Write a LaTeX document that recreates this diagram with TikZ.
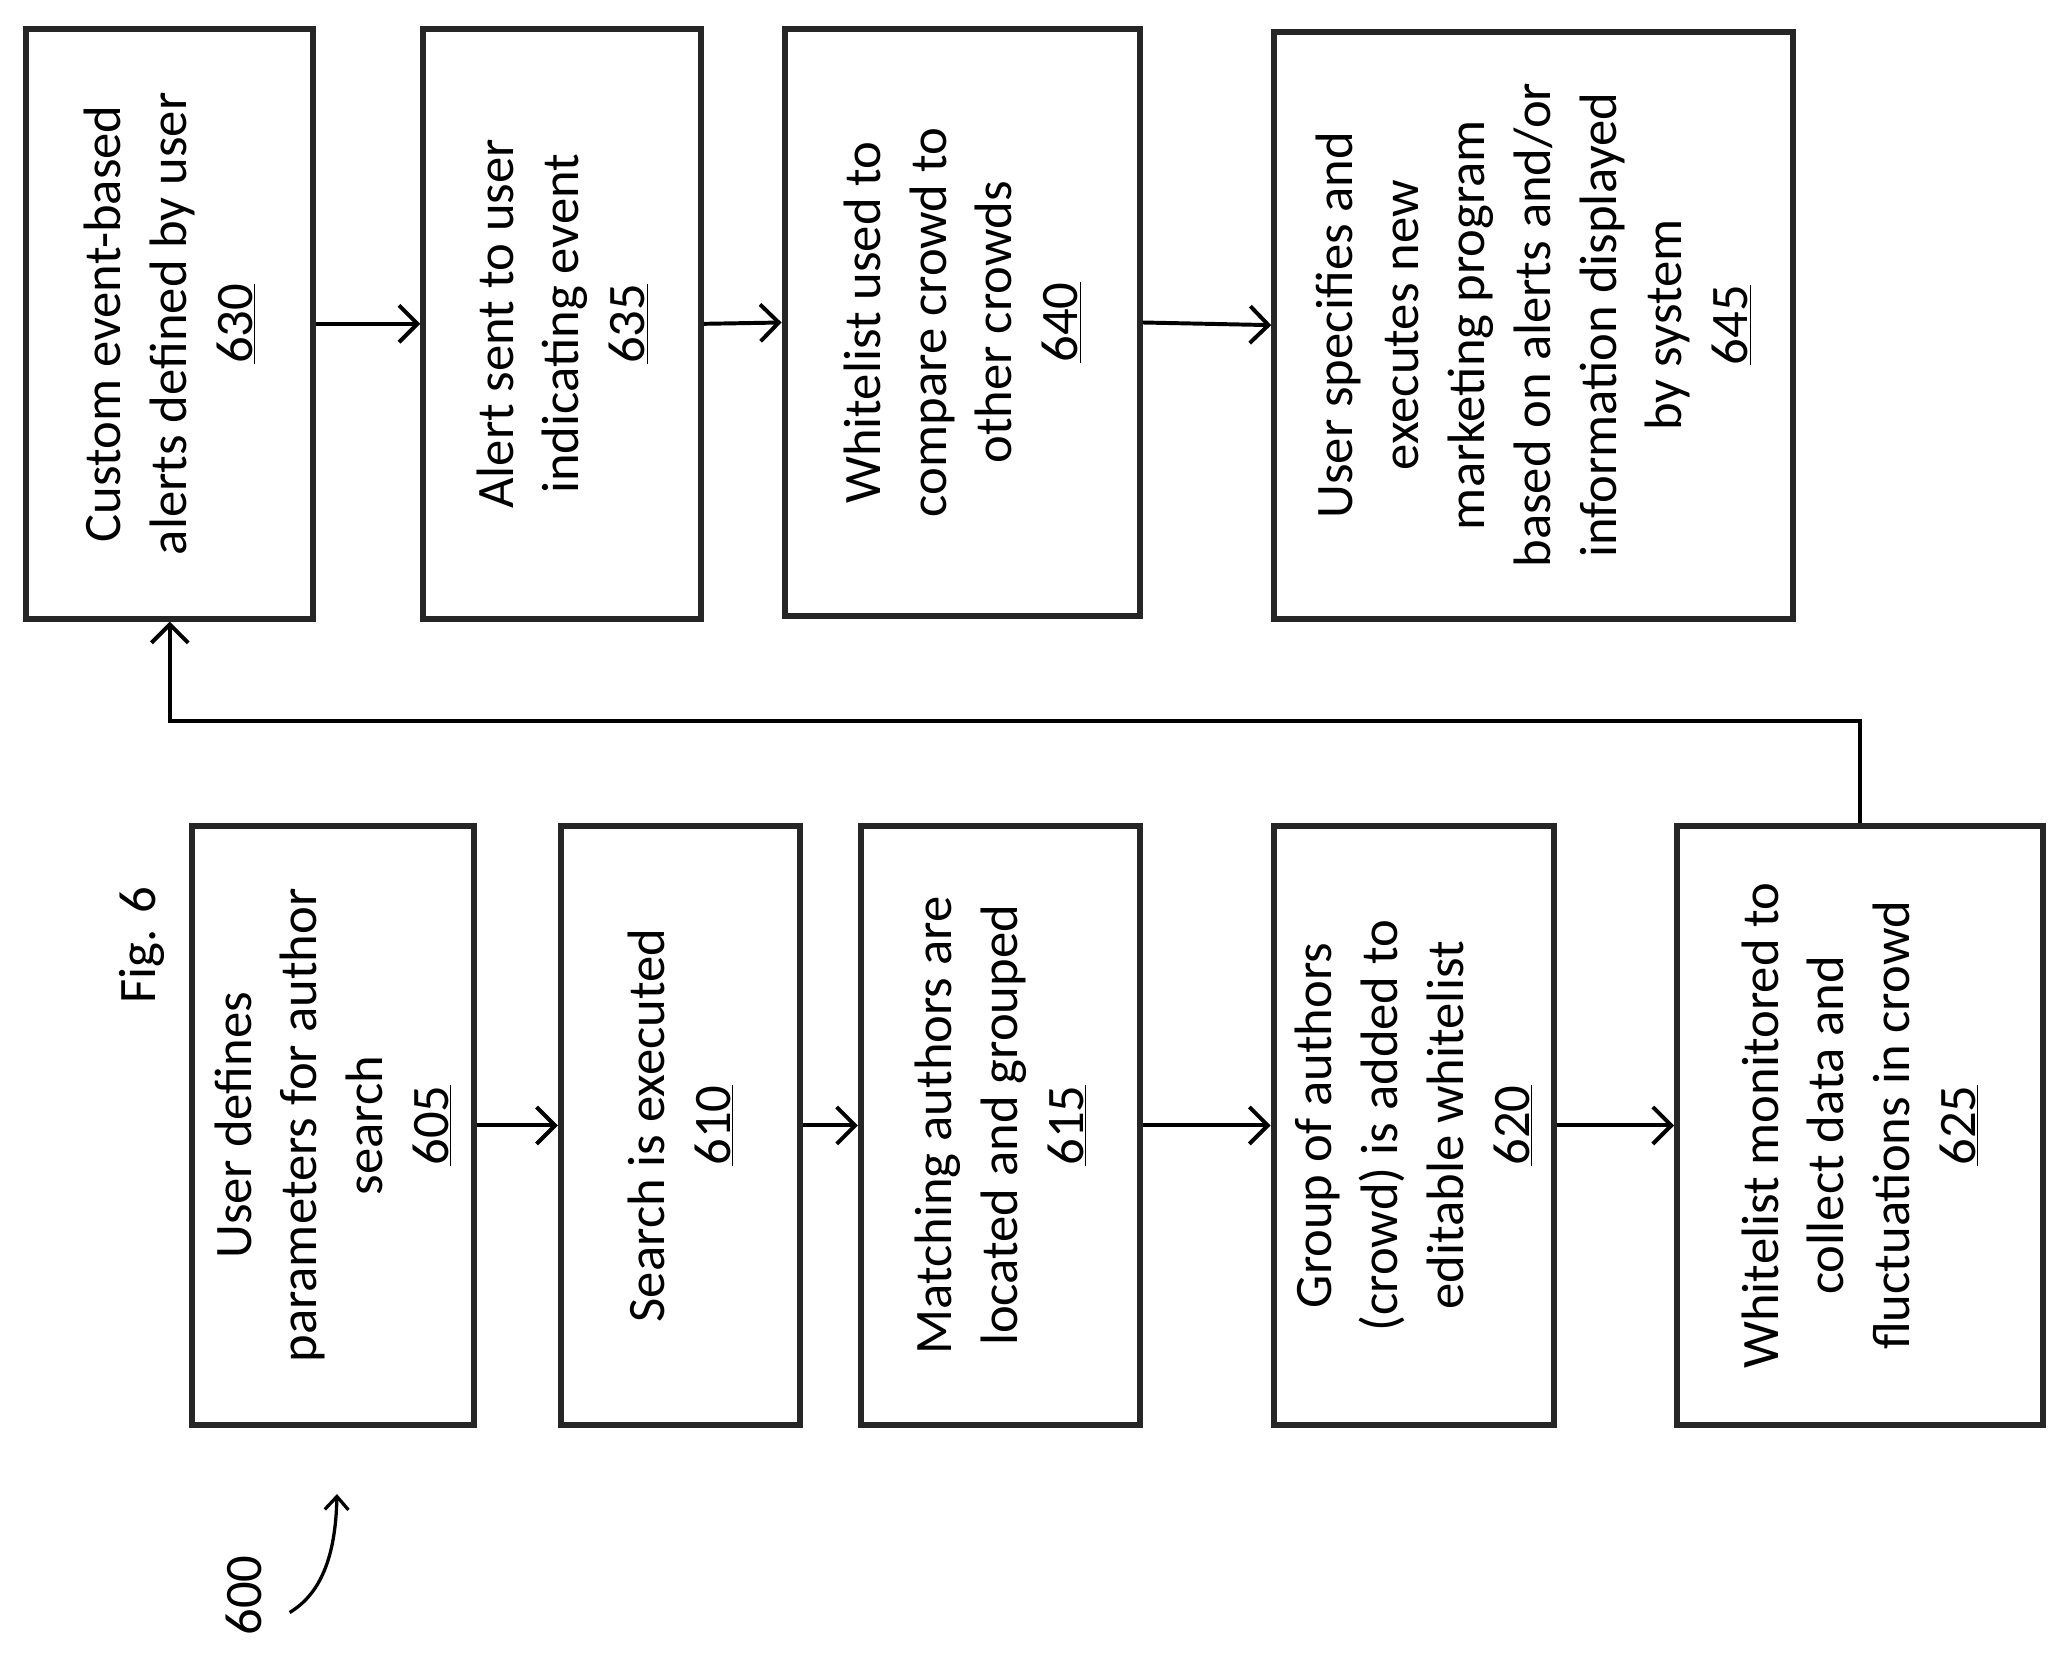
\documentclass[tikz,border=0pt]{standalone}
\usepackage{fontspec}
\setmainfont{Carlito}
\usetikzlibrary{arrows.meta}
\begin{document}
\begin{tikzpicture}[x=1pt,y=-1pt,
 box/.style={draw=black!85,line width=4.5pt,minimum width=#1,inner sep=0pt},
 txt/.style={rotate=90,align=center,font=\fontsize{40}{50}\selectfont},
 arr/.style={line width=3pt,-{Straight Barb[length=14pt,width=28pt,line width=3pt]}}]
\useasboundingbox (0,0) rectangle (1568,1257);
\node[box=218pt,minimum height=448pt] (a) at (129,246) {};
\node[box=211pt,minimum height=448pt] (b) at (427,246) {};
\node[box=270pt,minimum height=446pt] (c) at (731,245) {};
\node[box=394pt,minimum height=446pt] (d) at (1165,247) {};
\node[box=214pt,minimum height=455pt] (e) at (253,855) {};
\node[box=182pt,minimum height=455pt] (f) at (517,855) {};
\node[box=212pt,minimum height=455pt] (g) at (760,855) {};
\node[box=213pt,minimum height=455pt] (h) at (1074,855) {};
\node[box=278pt,minimum height=455pt] (i) at (1413,855) {};
\node[txt] at (a) {Custom event-based\\alerts defined by user\\\underline{630}};
\node[txt] at (b) {Alert sent to user\\indicating event\\\underline{635}};
\node[txt] at (c) {Whitelist used to\\compare crowd to\\other crowds\\\underline{640}};
\node[txt] at (d) {User specifies and\\executes new\\marketing program\\based on alerts and/or\\information displayed\\by system\\\underline{645}};
\node[txt] at (e) {User defines\\parameters for author\\search\\\underline{605}};
\node[txt] at (f) {Search is executed\\\underline{610}};
\node[txt] at (g) {Matching authors are\\located and grouped\\\underline{615}};
\node[txt] at (h) {Group of authors\\(crowd) is added to\\editable whitelist\\\underline{620}};
\node[txt] at (i) {Whitelist monitored to\\collect data and\\fluctuations in crowd\\\underline{625}};
\node[txt] (fig) at (108,718) {Fig. 6};
\node[txt] (n600) at (185,1212) {600};
\draw[arr] (a.east) -- (b.west);
\draw[arr] (b.east) -- (c.west);
\draw[arr] (c.east) -- (d.west);
\draw[arr] (e.east) -- (f.west);
\draw[arr] (f.east) -- (g.west);
\draw[arr] (g.east) -- (h.west);
\draw[arr] (h.east) -- (i.west);
\coordinate (c1) at (770,548);
\draw[arr] (i.north) |- (c1) -| (a.south);
\coordinate (p1) at (220,1225);
\coordinate (p2) at (256,1135);
\draw[line width=2.5pt,-{Straight Barb[length=10pt,width=18pt,line width=2.5pt]}] (p1) .. controls (245,1210) and (255,1180) .. (p2);
\end{tikzpicture}
\end{document}
